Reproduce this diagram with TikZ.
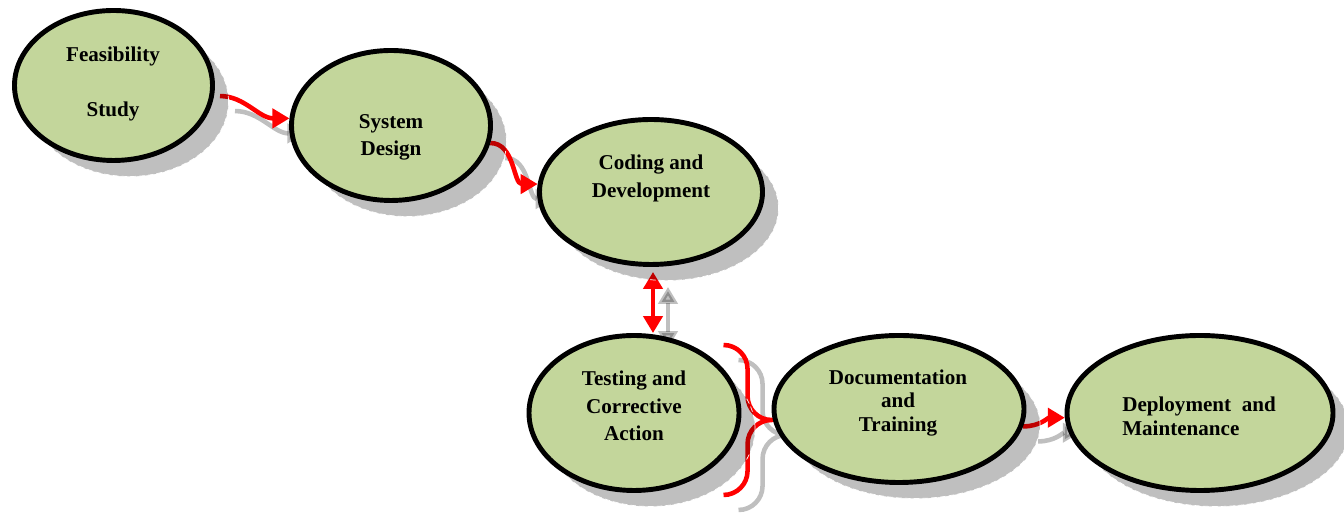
\documentclass[tikz,border=0pt]{standalone}
\usepackage{fontspec}
\setmainfont{Liberation Serif}
\usetikzlibrary{arrows.meta,shapes.geometric,shadows,backgrounds}
\definecolor{stagegreen}{RGB}{195,214,155}

\begin{document}
\begin{tikzpicture}[line join=round, line cap=round, >={Triangle[length=0.34cm,width=0.38cm]},
  stage/.style={ellipse, draw=black, line width=2.8pt, fill=stagegreen, inner sep=0pt,
    drop shadow={shadow xshift=0.32cm, shadow yshift=-0.32cm, opacity=1, fill=black,
      fill opacity=0.25, draw=white, densely dashed, line width=0.4pt}},
  stagetext/.style={font=\bfseries\fontsize{12}{15.5}\selectfont, align=center},
  flow/.style={red, line width=2.6pt,
    preaction={draw=black, line width=2.6pt, opacity=0.25, transform canvas={shift={(0.3cm,-0.3cm)}}}}]
\useasboundingbox (0,0) rectangle (26.88,10.26);
% stages
\node[stage, minimum width=3.96cm, minimum height=3.0cm] (feas) at (2.27,8.55) {};
\node[stage, minimum width=3.98cm, minimum height=3.0cm] (sysd) at (7.82,7.75) {};
\node[stage, minimum width=4.46cm, minimum height=2.9cm] (coding) at (13.02,6.42) {};
\node[stage, minimum width=4.2cm, minimum height=3.1cm] (testing) at (12.68,2.0) {};
\node[stage, minimum width=5.0cm, minimum height=2.94cm] (doc) at (17.98,2.08) {};
\node[stage, minimum width=5.32cm, minimum height=3.1cm] (deploy) at (24.0,2.0) {};
% labels
\node[stagetext] (feas-text) at (2.26,8.58) {Feasibility\\[15.8pt]Study};
\node[stagetext] (sysd-text) at (7.82,7.52) {System\\Design};
\node[stagetext] (coding-text) at (13.02,6.69) {Coding and\\Development};
\node[stagetext] (testing-text) at (12.68,2.14) {Testing and\\Corrective\\Action};
\node[stagetext, font=\bfseries\fontsize{12}{13.5}\selectfont] (doc-text) at (17.96,2.2) {Documentation\\and\\Training};
\node[stagetext, align=left, font=\bfseries\fontsize{12}{13.5}\selectfont] (deploy-text) at (23.98,1.94) {Deployment\ \ and\\Maintenance};
% connectors
\begin{scope}[on background layer]
\draw[flow, ->, shorten <=0.12cm] (feas.-6) to[out=0,in=180] (sysd.176);
\draw[flow, ->] (sysd.-10) to[out=0,in=180] (coding.176);
\draw[flow, <->, shorten <=0.1cm] ([xshift=0.04cm]coding.south) -- ([xshift=0.04cm]coding.south |- testing.north);
% brace towards documentation
\draw[flow] ([xshift=-0.96cm,yshift=1.28cm]doc.west) arc[start angle=90,end angle=0,radius=0.48]
  -- ++(0,-0.54) arc[start angle=180,end angle=270,radius=0.48] coordinate (bracetip)
  arc[start angle=90,end angle=180,radius=0.48] -- ++(0,-0.54)
  arc[start angle=0,end angle=-90,radius=0.48];
\draw[flow, ->] (doc.-8) to[out=0,in=180] (deploy.182);
\end{scope}
\end{tikzpicture}
\end{document}
